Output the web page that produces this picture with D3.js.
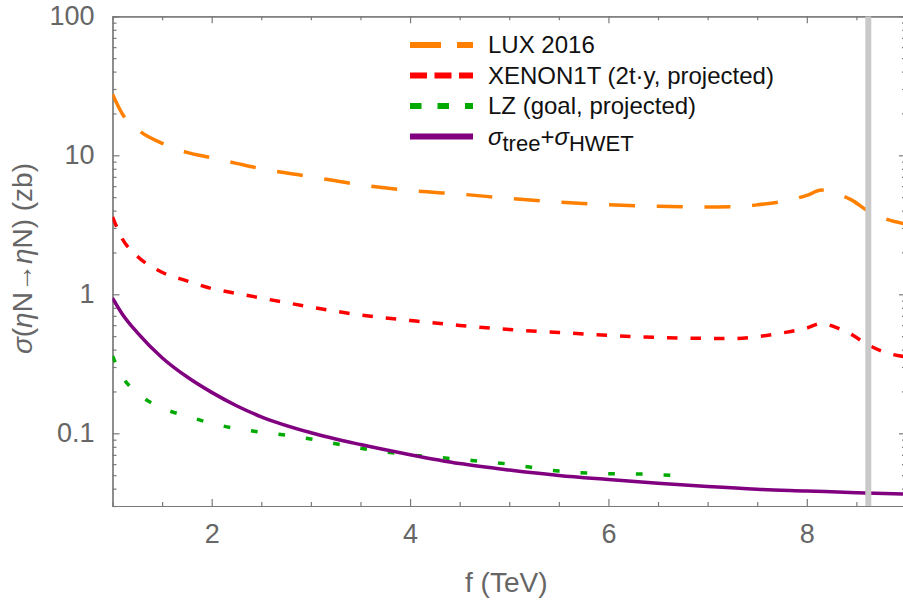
<!DOCTYPE html>
<html>
<head>
<meta charset="utf-8">
<script src="https://cdn.jsdelivr.net/npm/d3@7"></script>
<style>
  body { margin: 0; background: #fff; }
  text { font-family: "Liberation Sans", Arial, Helvetica, sans-serif; }
</style>
</head>
<body>
<svg id="chart"></svg>
<script>
// sigma(eta N -> eta N) vs f, log scale
const fGrid = [1.0, 1.1, 1.25, 1.5, 1.75, 2, 2.25, 2.5, 3, 3.5, 4, 4.5, 5, 5.5, 6, 6.5, 7, 7.25, 7.5, 7.75, 8, 8.15, 8.3, 8.45, 8.6, 8.8, 9.0];
const luxValues = [27.5, 19.8, 15.4, 12.2, 10.5, 9.6, 8.75, 8.0, 7.02, 6.13, 5.57, 5.26, 4.9, 4.6, 4.41, 4.3, 4.25, 4.26, 4.4, 4.65, 5.15, 5.62, 5.3, 4.78, 4.05, 3.48, 3.2];
const xenonValues = [3.6, 2.5, 1.88, 1.44, 1.25, 1.10, 1.015, 0.94, 0.81, 0.71, 0.649, 0.597, 0.558, 0.531, 0.507, 0.489, 0.482, 0.48, 0.496, 0.527, 0.572, 0.618, 0.575, 0.515, 0.44, 0.38, 0.355];

const lzF = [1.0, 1.1, 1.25, 1.5, 1.75, 2, 2.25, 2.5, 2.75, 3, 3.5, 4, 4.5, 5, 5.5, 6, 6.3, 6.65];
const lzValues = [0.36, 0.255, 0.195, 0.152, 0.133, 0.118, 0.108, 0.102, 0.097, 0.091, 0.078, 0.070, 0.065, 0.060, 0.0535, 0.0512, 0.051, 0.0498];

const hwetF = [1.0, 1.1, 1.25, 1.5, 1.75, 2, 2.25, 2.5, 3, 3.5, 4, 4.5, 5, 5.5, 6, 6.5, 7, 7.5, 8, 8.5, 9];
const hwetValues = [0.94, 0.72, 0.53, 0.35, 0.255, 0.197, 0.158, 0.1315, 0.101, 0.083, 0.0702, 0.0606, 0.0544, 0.0497, 0.0465, 0.0437, 0.0414, 0.0396, 0.0385, 0.0374, 0.0366];

const bandF = [8.59, 8.65];
const xTicks = [2, 4, 6, 8];
const yTicks = [0.1, 1, 10, 100];
const yTickLabels = ["0.1", "1", "10", "100"];

const W = 903, H = 603;
const margin = { top: 16.3, right: -3, bottom: 97, left: 112.5 },
    width = W - margin.left - margin.right,
    height = H - margin.top - margin.bottom;

const svg = d3.select("#chart")
    .attr("width", W)
    .attr("height", H)
    .append("g")
    .attr("transform", `translate(${margin.left},${margin.top})`);

const x = d3.scaleLinear().domain([1, 9]).range([0, width]);
const y = d3.scaleLog().domain([0.03, 100]).range([height, 0]);

const frameColor = "#7a7a7a", labelColor = "#666";

svg.append("clipPath").attr("id", "clip")
    .append("rect").attr("width", width).attr("height", height);

// minor tick values
const xMinor = d3.range(1.5, 9, 0.5).filter(v => !xTicks.includes(v));
const yMinor = [];
[0.01, 0.1, 1, 10].forEach(d => { for (let k = 2; k <= 9; k++) { const v = +(k * d).toPrecision(3); if (v >= 0.03 && v < 100) yMinor.push(v); } });

function styleAxis(g) {
    g.select(".domain").attr("stroke", frameColor).attr("stroke-width", 1.2);
    g.selectAll(".tick line").attr("stroke", frameColor).attr("stroke-width", 1.2);
    g.selectAll(".tick text").attr("fill", labelColor).style("font-size", "27px");
}

// bottom
svg.append("g").attr("transform", `translate(0,${height})`)
    .call(d3.axisBottom(x).tickValues(xTicks).tickSizeInner(-7).tickSizeOuter(0).tickPadding(18).tickFormat(d3.format("d")))
    .call(styleAxis);
svg.append("g").attr("transform", `translate(0,${height})`)
    .call(d3.axisBottom(x).tickValues(xMinor).tickSize(-4).tickFormat(""))
    .call(styleAxis);
// top
svg.append("g")
    .call(d3.axisTop(x).tickValues(xTicks).tickSizeInner(-7).tickSizeOuter(0).tickFormat(""))
    .call(styleAxis);
svg.append("g")
    .call(d3.axisTop(x).tickValues(xMinor).tickSize(-4).tickFormat(""))
    .call(styleAxis);
// left
svg.append("g")
    .call(d3.axisLeft(y).tickValues(yTicks).tickSizeInner(-7).tickSizeOuter(0).tickPadding(18).tickFormat((d, i) => yTickLabels[i]))
    .call(styleAxis);
svg.append("g")
    .call(d3.axisLeft(y).tickValues(yMinor).tickSize(-4).tickFormat(""))
    .call(styleAxis);
// right
svg.append("g").attr("transform", `translate(${width},0)`)
    .call(d3.axisRight(y).tickValues(yTicks).tickSizeInner(-7).tickSizeOuter(0).tickFormat(""))
    .call(styleAxis);
svg.append("g").attr("transform", `translate(${width},0)`)
    .call(d3.axisRight(y).tickValues(yMinor).tickSize(-4).tickFormat(""))
    .call(styleAxis);

const line = d3.line()
    .x(d => x(d[0]))
    .y(d => y(d[1]))
    .curve(d3.curveMonotoneX);

const series = [
    { name: "lux", f: fGrid, v: luxValues, color: "#ff8000", dash: "26,21.7", legendDash: "31,16" },
    { name: "xenon", f: fGrid, v: xenonValues, color: "#ff0000", dash: "10.5,13", legendDash: "17,7.5" },
    { name: "lz", f: lzF, v: lzValues, color: "#00aa00", dash: "6.7,21", legendDash: "11.5,16" },
    { name: "hwet", f: hwetF, v: hwetValues, color: "#800080", dash: null, legendDash: null }
];

const plot = svg.append("g").attr("clip-path", "url(#clip)");

series.forEach(s => {
    plot.append("path")
        .datum(s.f.map((f, i) => [f, s.v[i]]))
        .attr("fill", "none")
        .attr("stroke", s.color)
        .attr("stroke-width", 3.5)
        .attr("stroke-dasharray", s.dash)
        .attr("d", line);
});

// vertical band
plot.append("rect")
    .attr("x", x(bandF[0]))
    .attr("width", x(bandF[1]) - x(bandF[0]))
    .attr("y", 0)
    .attr("height", height)
    .attr("fill", "#c9c9c9");

// legend
const legend = svg.selectAll(".legend")
    .data(series)
    .enter().append("g")
    .attr("class", "legend")
    .attr("transform", (d, i) => `translate(${410 - margin.left},${45 - margin.top + i * 30.5})`);

legend.append("line")
    .attr("x1", 0).attr("x2", 63)
    .attr("stroke", d => d.color)
    .attr("stroke-width", 6)
    .attr("stroke-dasharray", d => d.legendDash);

const legendText = legend.append("text")
    .attr("x", 78)
    .attr("dy", "0.35em")
    .attr("fill", "#111")
    .style("font-size", "24px");

legendText.filter((d, i) => i === 0).text("LUX 2016");
legendText.filter((d, i) => i === 1).text("XENON1T (2t\u00b7y, projected)");
legendText.filter((d, i) => i === 2).text("LZ (goal, projected)");
const hw = legendText.filter((d, i) => i === 3);
hw.append("tspan").style("font-style", "italic").text("\u03c3");
hw.append("tspan").attr("dy", 6).style("font-size", "22px").text("tree");
hw.append("tspan").attr("dy", -6).text("+");
hw.append("tspan").style("font-style", "italic").text("\u03c3");
hw.append("tspan").attr("dy", 6).style("font-size", "22px").text("HWET");

// axis titles
svg.append("text")
    .attr("x", width / 2 - 3)
    .attr("y", height + 86)
    .attr("text-anchor", "middle")
    .attr("fill", labelColor)
    .style("font-size", "28px")
    .text("f (TeV)");

const yt = svg.append("text")
    .attr("transform", `translate(${32 - margin.left},${163 - margin.top}) rotate(-90)`)
    .attr("text-anchor", "end")
    .attr("fill", labelColor)
    .style("font-size", "28px");
yt.append("tspan").style("font-style", "italic").text("\u03c3");
yt.append("tspan").text("(");
yt.append("tspan").style("font-style", "italic").text("\u03b7");
yt.append("tspan").text("N\u2192");
yt.append("tspan").style("font-style", "italic").text("\u03b7");
yt.append("tspan").text("N) (zb)");
</script>
</body>
</html>
